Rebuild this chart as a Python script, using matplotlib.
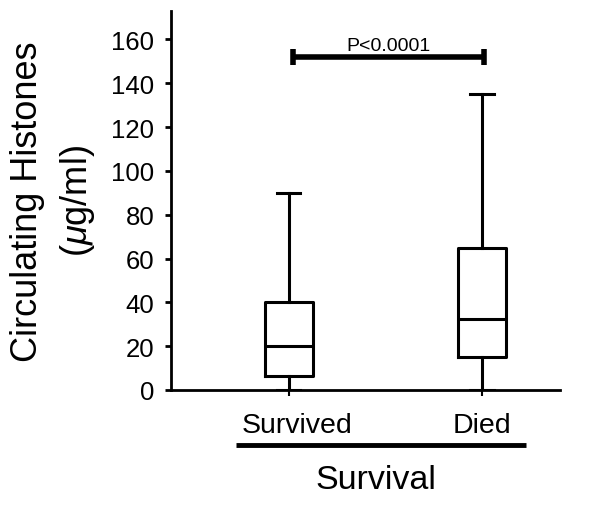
import matplotlib
matplotlib.use("Agg")
import matplotlib.pyplot as plt
import matplotlib.transforms as mtransforms

plt.rcParams['font.family'] = ['Liberation Sans', 'DejaVu Sans']
plt.rcParams['mathtext.fontset'] = 'custom'
plt.rcParams['mathtext.it'] = 'Liberation Sans:italic'
plt.rcParams['mathtext.rm'] = 'Liberation Sans'

# Data
groups = ["Survived", "Died"]
whisker_low = [0, 0]
q1 = [6.5, 15]
median = [20, 32.5]
q3 = [40, 65]
whisker_high = [90, 135]
p_text = "P<0.0001"
p_height = 152

stats = []
for i in range(len(groups)):
    stats.append({"label": groups[i], "whislo": whisker_low[i], "q1": q1[i],
                  "med": median[i], "q3": q3[i], "whishi": whisker_high[i]})

fig = plt.figure(figsize=(6.04, 5.06), dpi=100)
ax = fig.add_axes([0.283, 0.2273, 0.644, 0.749])

lw = 2.2
ax.bxp(stats, positions=[1, 2], widths=0.25, capwidths=0.12, showfliers=False,
       boxprops=dict(color="black", linewidth=lw),
       medianprops=dict(color="black", linewidth=lw),
       whiskerprops=dict(color="black", linewidth=lw),
       capprops=dict(color="black", linewidth=lw))

ax.set_xlim(0.389, 2.404)
ax.set_ylim(0, 173)
ax.set_yticks(range(0, 161, 20))
ax.set_xticks([1, 2])
ax.set_xticklabels(groups)

for s in ["top", "right"]:
    ax.spines[s].set_visible(False)
ax.spines["left"].set_linewidth(2)
ax.spines["bottom"].set_linewidth(2)
ax.tick_params(axis="y", labelsize=18.5, length=4, width=2, pad=8)
ax.tick_params(axis="x", labelsize=20.5, length=4, width=1.5, pad=12)

# the "Survived" label sits a little right of its tick in the original
lab = ax.get_xticklabels()[0]
lab.set_transform(lab.get_transform() + mtransforms.ScaledTranslation(8 / 100, 0, fig.dpi_scale_trans))

ax.set_ylabel("Circulating Histones\n($\\mu$g/ml)", fontsize=26, linespacing=1.45, labelpad=10)

# significance bar
ax.plot([1.02, 2.01], [p_height, p_height], color="black", linewidth=4, solid_capstyle="butt")
for x in [1.02, 2.01]:
    ax.plot([x, x], [p_height - 3.5, p_height + 3.5], color="black", linewidth=4, solid_capstyle="butt")
ax.text(1.515, p_height + 1.5, p_text, ha="center", va="bottom", fontsize=14)

# underline below the group labels, and the group title
trans = mtransforms.blended_transform_factory(ax.transData, ax.transAxes)
ax.plot([0.725, 2.228], [-0.145, -0.145], color="black", linewidth=3.5,
        transform=trans, clip_on=False, solid_capstyle="butt")
ax.text(1.45, -0.195, "Survival", transform=trans, ha="center", va="top", fontsize=24.5)

fig.savefig("out.png", dpi=100)
